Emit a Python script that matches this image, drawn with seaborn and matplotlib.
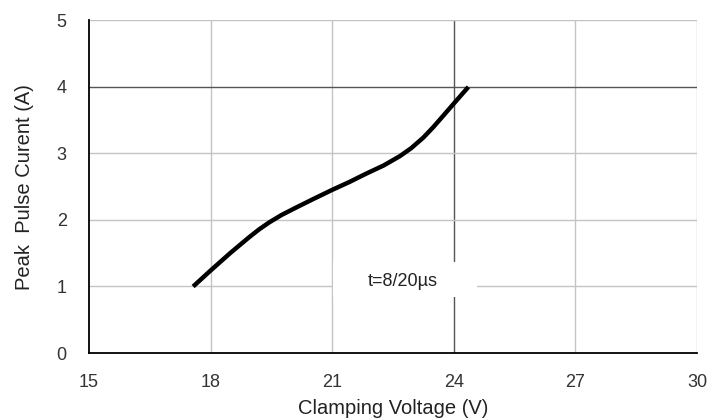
import numpy as np
import pandas as pd
import matplotlib
matplotlib.use("Agg")
import matplotlib.pyplot as plt
import seaborn as sns
from matplotlib.patches import Rectangle

# values
voltage = [17.57, 18.0, 18.48, 18.95, 19.2, 19.45, 19.75, 20.12, 20.55, 20.99,
           21.42, 21.85, 22.27, 22.67, 22.95, 23.25, 23.5, 23.75, 24.0, 24.2, 24.36]
current = [1.00, 1.24, 1.50, 1.74, 1.86, 1.965, 2.075, 2.19, 2.32, 2.45,
           2.57, 2.70, 2.82, 2.96, 3.08, 3.24, 3.40, 3.575, 3.75, 3.89, 4.00]
x_ticks = [15, 18, 21, 24, 27, 30]
y_ticks = [0, 1, 2, 3, 4, 5]
note = "t=8/20\u00b5s"

df = pd.DataFrame({"voltage": voltage, "current": current})

sns.set_style("white")
plt.rcParams["font.family"] = ["Liberation Sans", "DejaVu Sans"]

fig = plt.figure(figsize=(7.21, 4.18), dpi=100)
ax = fig.add_axes([0.1234, 0.1555, 0.9667 - 0.1234, 0.951 - 0.1555])

ax.set_xlim(15, 30)
ax.set_ylim(0, 5)
ax.set_xticks(x_ticks)
ax.set_yticks(y_ticks)

# grid
for xv in x_ticks[1:]:
    ax.axvline(xv, color="#555555" if xv == 24 else "#c4c4c4", lw=1.0, zorder=1)
for yv in y_ticks[1:]:
    ax.axhline(yv, color="#555555" if yv == 4 else "#c4c4c4", lw=1.0, zorder=1)

# white box behind the label
ax.add_patch(Rectangle((21.02, 0.84), 3.55, 0.53, facecolor="white",
                       edgecolor="none", zorder=2))
ax.text(22.75, 1.07, note, ha="center", va="center", fontsize=13,
        color="#222222", zorder=3)

sns.lineplot(data=df, x="voltage", y="current", ax=ax, color="black",
             lw=3.2, zorder=4, solid_capstyle="butt")

for side in ["top", "right"]:
    ax.spines[side].set_visible(False)
ax.spines["left"].set_color("black")
ax.spines["bottom"].set_color("black")
ax.spines["left"].set_linewidth(1.3)
ax.spines["bottom"].set_linewidth(1.3)

ax.tick_params(axis="both", length=0, labelsize=13, labelcolor="#333333")
ax.tick_params(axis="x", pad=15)
ax.tick_params(axis="y", pad=16)

ax.set_xlabel("Clamping Voltage (V)", fontsize=14.5, color="#222222", labelpad=6)
ax.set_ylabel("Peak  Pulse Curent (A)", fontsize=14.5, color="#222222", labelpad=16)

fig.savefig("out.png", dpi=100)
